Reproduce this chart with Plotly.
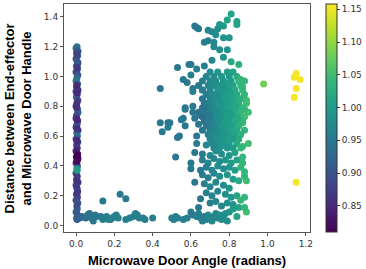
import plotly.graph_objects as go

# (angle, distance, colour value)
column = [(0.005,1.20,0.95),(0.0,1.19,0.93),(0.01,1.17,0.91),(0.003,1.16,0.90),(0.008,1.14,0.92),(0.0,1.12,0.89),
          (0.006,1.10,0.91),(0.01,1.09,0.90),(0.002,1.07,0.92),(0.007,1.05,0.90),(0.0,1.03,0.88),(0.009,1.01,0.90),
          (0.004,0.99,0.93),(0.0,0.97,0.95),(0.008,0.95,0.91),(0.003,0.93,0.87),(0.01,0.91,0.86),(0.0,0.90,0.88),
          (0.006,0.88,0.91),(0.002,0.86,0.93),(0.009,0.84,0.88),(0.004,0.82,0.86),(0.0,0.80,0.87),(0.007,0.78,0.90),
          (0.01,0.76,0.92),(0.003,0.74,0.89),(0.0,0.72,0.87),(0.008,0.70,0.88),(0.005,0.68,0.90),(0.0,0.66,0.89),
          (0.01,0.64,0.87),(0.004,0.62,0.91),(0.007,0.60,0.93),(0.0,0.58,0.90),(0.009,0.56,0.88),(0.003,0.54,0.87),
          (0.006,0.52,0.86),(0.0,0.50,0.84),(0.008,0.48,0.83),(0.002,0.46,0.82),(0.01,0.45,0.82),(0.005,0.44,0.83),
          (0.0,0.42,0.86),(0.007,0.40,0.90),(0.0,0.35,0.88),(0.006,0.33,0.87),(0.003,0.31,0.88),(0.01,0.29,0.87),
          (0.0,0.27,0.88),(0.005,0.25,0.87),(0.008,0.23,0.88),(0.002,0.21,0.89),(0.007,0.19,0.88),(0.0,0.17,0.89),
          (0.009,0.15,0.90),(0.004,0.13,0.89),(0.006,0.11,0.90),(0.0,0.09,0.91),(0.008,0.07,0.91),(0.003,0.05,0.92),
          (0.005,0.04,0.91),(0.004,1.15,0.88),(0.006,1.06,0.87),(0.003,0.94,0.85),(0.005,0.89,0.85),(0.004,0.79,0.86),
          (0.006,0.71,0.85),(0.005,0.65,0.86),(0.004,0.57,0.85),(0.006,0.47,0.81),(0.005,0.43,0.82),(0.004,0.30,0.86),
          (0.006,0.22,0.87),(0.004,0.38,0.99),(0.006,0.37,1.0)]

bottom = [(0.02,0.05,0.92),(0.03,0.06,0.93),(0.05,0.05,0.93),(0.06,0.07,0.94),(0.07,0.08,0.94),(0.08,0.05,0.94),
          (0.09,0.03,0.95),(0.10,0.07,0.95),(0.11,0.06,0.95),(0.13,0.06,0.95),(0.14,0.04,0.96),(0.15,0.05,0.95),
          (0.16,0.06,0.96),(0.17,0.04,0.96),(0.18,0.04,0.96),(0.19,0.05,0.96),(0.20,0.06,0.96),(0.21,0.07,0.96),
          (0.22,0.05,0.96),(0.26,0.04,0.96),(0.28,0.05,0.96),(0.30,0.06,0.96),(0.31,0.08,0.96),(0.32,0.07,0.96),
          (0.33,0.05,0.96),(0.35,0.05,0.96),(0.36,0.04,0.96),(0.40,0.05,0.96),(0.50,0.05,0.96),(0.51,0.04,0.96),
          (0.52,0.06,0.96),(0.53,0.05,0.96),(0.56,0.04,0.96),(0.58,0.05,0.96),
          (0.14,0.164,0.95),(0.23,0.21,0.95),(0.26,0.18,0.95)]

scatter_left = [(0.53,1.06,0.95),(0.44,0.92,0.95),(0.44,0.69,0.95),(0.45,0.63,0.95),(0.48,0.69,0.95),(0.48,0.66,0.96),
                (0.54,0.60,0.95),(0.52,0.46,0.95),(0.55,0.71,0.95),(0.57,0.78,0.95),(0.57,0.67,0.95),(0.56,0.98,0.95),
                (0.58,0.96,0.95),(0.59,1.08,0.95),(0.60,1.01,0.96),(0.49,0.69,0.95),(0.53,0.59,0.95),(0.60,1.08,0.95),
                (0.63,1.05,0.96),(0.67,1.07,0.96),(0.71,1.11,0.97),(0.61,0.92,0.95),(0.61,0.90,0.96),(0.66,0.91,0.96),
                (0.57,0.79,0.95),(0.61,0.80,0.95),(0.61,0.76,0.95),(0.56,0.72,0.95),(0.62,0.72,0.95),(0.65,0.74,0.95),
                (0.64,0.68,0.95),(0.63,0.60,0.95),(0.63,0.55,0.96),(0.68,0.54,0.97)]

upper = [(0.81,1.42,1.01),(0.79,1.38,1.01),(0.84,1.37,1.01),(0.84,1.35,1.01),(0.77,1.34,1.0),(0.62,1.34,0.95),
         (0.64,1.32,0.95),(0.69,1.31,0.97),(0.71,1.30,0.97),(0.74,1.32,0.98),(0.73,1.28,0.98),(0.77,1.26,0.99),
         (0.80,1.26,0.99),(0.67,1.23,0.96),(0.69,1.24,0.96),(0.72,1.23,0.97),(0.72,1.20,0.97),(0.79,1.18,0.99),
         (0.75,1.18,0.98),(0.77,1.13,0.99),(0.81,1.10,1.02),(0.85,1.08,1.03),(0.63,1.33,0.95),(0.75,1.35,0.99)]

core = [(0.70,1.03,0.98),(0.74,1.03,0.99),(0.79,1.03,1.0),(0.82,1.03,1.01),
        (0.68,1.0,0.97),(0.72,1.0,0.98),(0.76,1.0,0.99),(0.80,1.0,1.0),(0.84,1.0,1.02),
        (0.66,0.97,0.96),(0.70,0.97,0.98),(0.73,0.97,0.98),(0.77,0.97,0.99),(0.81,0.97,1.0),(0.85,0.97,1.03),(0.88,0.97,1.04),
        (0.64,0.94,0.95),(0.69,0.94,0.97),(0.72,0.94,0.98),(0.75,0.94,0.99),(0.78,0.94,1.0),(0.82,0.94,1.01),(0.86,0.94,1.04),
        (0.66,0.91,0.96),(0.70,0.91,0.97),(0.74,0.91,0.99),(0.77,0.91,0.99),(0.80,0.91,1.0),(0.83,0.91,1.02),(0.87,0.91,1.04),
        (0.68,0.88,0.96),(0.71,0.88,0.98),(0.73,0.88,0.98),(0.76,0.88,0.99),(0.79,0.88,1.0),(0.81,0.88,1.0),(0.84,0.88,1.02),(0.88,0.88,1.04),
        (0.66,0.85,0.95),(0.70,0.85,0.97),(0.72,0.85,0.98),(0.75,0.85,0.99),(0.78,0.85,1.0),(0.80,0.85,1.0),(0.83,0.85,1.02),(0.86,0.85,1.03),
        (0.67,0.82,0.95),(0.69,0.82,0.96),(0.71,0.82,0.97),(0.74,0.82,0.99),(0.77,0.82,0.99),(0.79,0.82,1.0),(0.82,0.82,1.01),(0.85,0.82,1.03),(0.89,0.82,1.05),
        (0.66,0.79,0.95),(0.68,0.79,0.95),(0.70,0.79,0.96),(0.73,0.79,0.98),(0.75,0.79,0.99),(0.78,0.79,1.0),(0.81,0.79,1.01),(0.84,0.79,1.02),(0.87,0.79,1.04),
        (0.64,0.76,0.94),(0.67,0.76,0.95),(0.70,0.76,0.96),(0.72,0.76,0.97),(0.74,0.76,0.98),(0.77,0.76,0.99),(0.80,0.76,1.0),(0.83,0.76,1.02),(0.86,0.76,1.04),(0.90,0.76,1.05),
        (0.66,0.73,0.94),(0.69,0.73,0.95),(0.71,0.73,0.96),(0.73,0.73,0.98),(0.76,0.73,0.99),(0.79,0.73,1.0),(0.82,0.73,1.01),(0.85,0.73,1.03),(0.88,0.73,1.05),
        (0.67,0.70,0.94),(0.70,0.70,0.95),(0.72,0.70,0.97),(0.75,0.70,0.99),(0.78,0.70,1.0),(0.80,0.70,1.0),(0.83,0.70,1.02),(0.87,0.70,1.04),
        (0.68,0.67,0.95),(0.71,0.67,0.96),(0.74,0.67,0.98),(0.76,0.67,0.99),(0.79,0.67,1.0),(0.82,0.67,1.01),(0.85,0.67,1.03),
        (0.66,0.64,0.95),(0.70,0.64,0.96),(0.72,0.64,0.97),(0.75,0.64,0.99),(0.78,0.64,1.0),(0.81,0.64,1.01),(0.84,0.64,1.02),(0.88,0.64,1.04),
        (0.69,0.61,0.96),(0.71,0.61,0.97),(0.74,0.61,0.98),(0.77,0.61,0.99),(0.80,0.61,1.0),(0.83,0.61,1.01),(0.86,0.61,1.03),
        (0.70,0.58,0.97),(0.73,0.58,0.98),(0.76,0.58,0.99),(0.79,0.58,1.0),(0.82,0.58,1.0),(0.85,0.58,1.02),
        (0.71,0.55,0.97),(0.74,0.55,0.98),(0.77,0.55,0.99),(0.80,0.55,1.0),(0.84,0.55,1.02),(0.90,0.55,1.05),
        (0.72,0.52,0.97),(0.75,0.52,0.98),(0.79,0.52,0.99),(0.82,0.52,1.0),(0.86,0.52,1.04),
        (0.715,0.955,0.98),(0.765,0.925,0.99),(0.795,0.955,1.0),(0.735,0.865,0.98),(0.785,0.835,1.0),(0.755,0.805,0.99),
        (0.715,0.775,0.97),(0.805,0.745,1.0),(0.745,0.715,0.98),(0.795,0.685,1.0),(0.725,0.655,0.97),(0.775,0.625,0.99),
        (0.835,0.805,1.02),(0.815,0.865,1.01),(0.845,0.715,1.02),(0.695,0.745,0.95),(0.685,0.705,0.95),(0.765,0.535,0.99)]

lower = [(0.62,0.49,0.95),(0.66,0.48,0.96),(0.70,0.47,0.97),(0.73,0.50,0.98),(0.76,0.48,0.98),(0.80,0.47,0.99),(0.83,0.49,1.01),
         (0.66,0.44,0.96),(0.69,0.42,0.97),(0.72,0.45,0.97),(0.75,0.43,0.98),(0.78,0.44,0.99),(0.81,0.42,1.0),(0.84,0.44,1.01),
         (0.68,0.39,0.96),(0.71,0.37,0.97),(0.74,0.40,0.98),(0.77,0.38,0.98),(0.80,0.39,0.99),(0.83,0.37,1.0),
         (0.66,0.34,0.96),(0.69,0.32,0.96),(0.72,0.35,0.97),(0.75,0.33,0.98),(0.79,0.34,0.99),(0.82,0.31,1.0),(0.85,0.30,1.02),
         (0.67,0.28,0.96),(0.70,0.26,0.97),(0.73,0.29,0.97),(0.77,0.27,0.98),(0.80,0.25,0.99),
         (0.68,0.22,0.96),(0.71,0.20,0.97),(0.74,0.23,0.97),(0.78,0.21,0.98),(0.81,0.19,0.99),(0.84,0.20,1.01),
         (0.70,0.15,0.96),(0.73,0.16,0.97),(0.76,0.13,0.97),(0.79,0.15,0.98),(0.82,0.14,0.99),(0.85,0.12,1.01),
         (0.60,0.42,0.95),(0.60,0.38,0.95),(0.62,0.29,0.95),(0.65,0.37,0.95),(0.65,0.18,0.95),(0.64,0.12,0.95),
         (0.60,0.09,0.95),(0.61,0.07,0.95),(0.63,0.06,0.96),(0.64,0.08,0.96),(0.65,0.05,0.96),(0.66,0.03,0.96),
         (0.67,0.06,0.96),(0.68,0.04,0.96),(0.69,0.07,0.97),(0.70,0.05,0.97),(0.71,0.03,0.97),(0.72,0.06,0.97),
         (0.73,0.08,0.97),(0.74,0.05,0.97),(0.75,0.07,0.98),(0.76,0.04,0.98),(0.77,0.06,0.98),(0.78,0.08,0.98),
         (0.80,0.09,0.99),(0.82,0.11,1.0),(0.84,0.06,1.01),(0.79,0.03,0.98)]

right_edge = [(0.89,0.09,1.05),(0.88,0.12,1.04),(0.86,0.17,1.04),(0.88,0.19,1.04),(0.89,0.30,1.05),(0.88,0.33,1.04),
              (0.86,0.39,1.04),(0.87,0.46,1.04),(0.87,0.42,1.04),(0.88,0.36,1.04),(0.87,0.53,1.04),(0.87,0.69,1.04),
              (0.88,0.78,1.04),(0.89,0.84,1.05),(0.87,0.93,1.04),(0.86,0.98,1.04)]

outliers = [(0.98,0.95,1.08),(1.15,1.02,1.155),(1.14,0.995,1.155),(1.17,0.98,1.155),
            (1.15,0.92,1.155),(1.14,0.86,1.155),(1.15,0.29,1.155)]

x_ticks = [0.0, 0.2, 0.4, 0.6, 0.8, 1.0, 1.2]
y_ticks = [0.0, 0.2, 0.4, 0.6, 0.8, 1.0, 1.2, 1.4]
c_ticks = [0.85, 0.90, 0.95, 1.00, 1.05, 1.10, 1.15]

pts = column + bottom + scatter_left + upper + core + lower + right_edge + outliers
xs = [p[0] for p in pts]
ys = [p[1] for p in pts]
cs = [p[2] for p in pts]

W, H = 366, 269
fig = go.Figure(go.Scatter(
    x=xs, y=ys, mode="markers",
    marker=dict(size=7, color=cs, colorscale="Viridis", cmin=0.81, cmax=1.158,
                line=dict(width=0),
                colorbar=dict(x=1.065, xanchor="left", xpad=0, ypad=0, y=0.5, yanchor="middle",
                              len=1, lenmode="fraction", thickness=11,
                              outlinewidth=1, outlinecolor="#333",
                              tickvals=c_ticks, ticktext=["0.85", "0.90", "0.95", "1.00", "1.05", "1.10", "1.15"],
                              ticks="outside", ticklen=3, ticklabeloverflow="allow",
                              tickcolor="#333", tickfont=dict(family="DejaVu Sans", size=9, color="#333"))),
    showlegend=False, hoverinfo="skip"))

axis_common = dict(showgrid=False, zeroline=False, showline=True, mirror=True, linecolor="#555", linewidth=1,
                   ticks="outside", ticklen=3, tickcolor="#555",
                   tickfont=dict(family="DejaVu Sans", size=9, color="#333"))

fig.update_layout(
    width=W, height=H, margin=dict(l=64, r=56, t=4, b=37, autoexpand=False),
    paper_bgcolor="white", plot_bgcolor="white",
    xaxis=dict(range=[-0.063, 1.222], tickvals=x_ticks, tickformat=".1f", **axis_common),
    yaxis=dict(range=[-0.044, 1.487], tickvals=y_ticks, tickformat=".1f", **axis_common),
    annotations=[
        dict(text="Microwave Door Angle (radians)", xref="paper", yref="paper", x=0.5, y=-0.123,
             xanchor="center", yanchor="middle", showarrow=False,
             font=dict(family="Liberation Sans", size=13, color="black", weight="bold")),
        dict(text="Distance between End-effector<br>and Microwave Door Handle", xref="paper", yref="paper",
             x=-0.185, y=0.5, xanchor="center", yanchor="middle", textangle=-90, showarrow=False,
             font=dict(family="Liberation Sans", size=13, color="black", weight="bold")),
    ],
)

fig.write_html("out.html", config={"displayModeBar": False},
               post_script="document.body.style.margin='0px';document.body.style.padding='0px';")
